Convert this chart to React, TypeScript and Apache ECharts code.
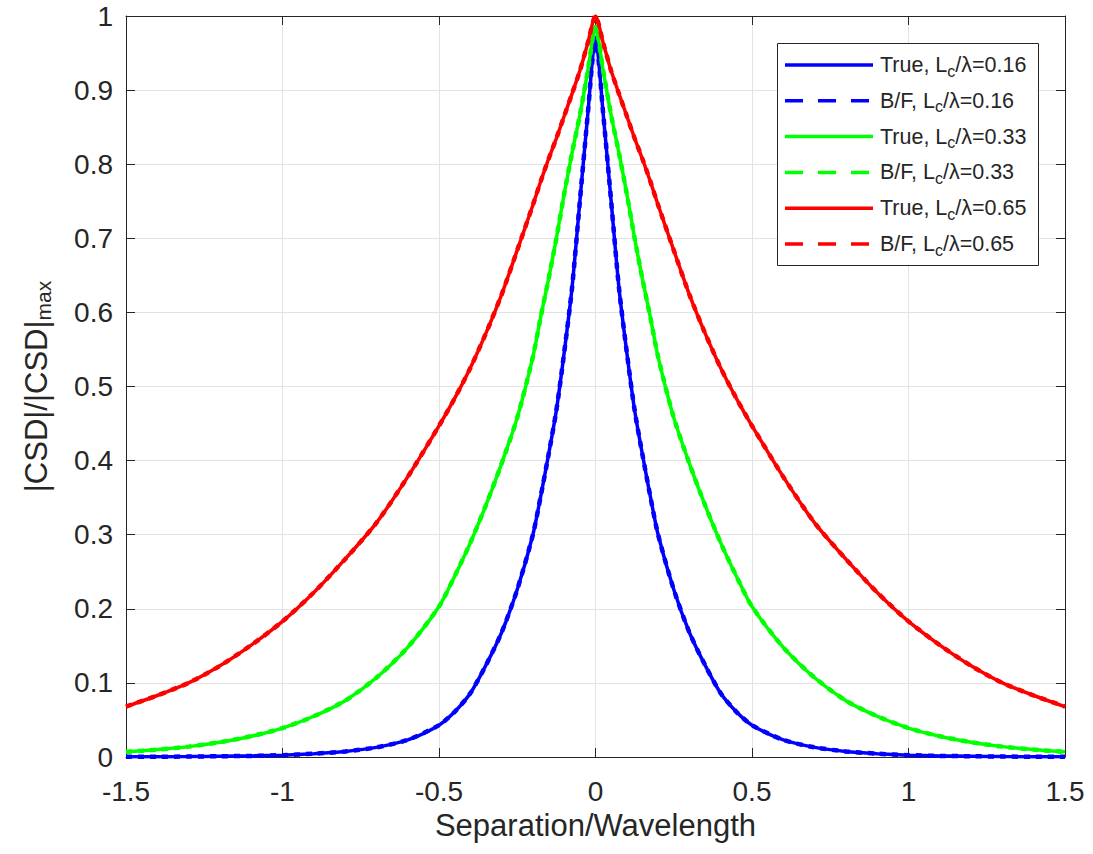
import React, { useEffect, useRef } from "react";
import * as echarts from "echarts";

const FONT = "'Liberation Sans', Arial, Helvetica, sans-serif";
const INK = "#262626";

// Separation / Wavelength sample positions
const XS = [
  -1.5, -1.4, -1.3, -1.2, -1.1, -1.0, -0.9, -0.8, -0.7, -0.6, -0.5, -0.45, -0.4, -0.35, -0.3, -0.25, -0.2,
  -0.175, -0.15, -0.125, -0.1, -0.075, -0.05, -0.025, 0, 0.025, 0.05, 0.075, 0.1, 0.125, 0.15, 0.175, 0.2,
  0.25, 0.3, 0.35, 0.4, 0.45, 0.5, 0.6, 0.7, 0.8, 0.9, 1.0, 1.1, 1.2, 1.3, 1.4, 1.5,
];

// Lc/λ = 0.16 (blue)
const TRUE_016 = [
  0.0002, 0.0004, 0.0006, 0.001, 0.0015, 0.0025, 0.0045, 0.0075, 0.013, 0.023, 0.043, 0.061, 0.086, 0.124, 0.168,
  0.226, 0.3, 0.352, 0.408, 0.468, 0.546, 0.633, 0.75, 0.866, 0.97, 0.866, 0.75, 0.633, 0.546, 0.468, 0.408,
  0.352, 0.3, 0.226, 0.168, 0.124, 0.086, 0.061, 0.043, 0.023, 0.013, 0.0075, 0.0045, 0.0025, 0.0015, 0.001,
  0.0006, 0.0004, 0.0002,
];
const BF_016 = [
  0.0002, 0.0004, 0.0006, 0.001, 0.0015, 0.0025, 0.0045, 0.0075, 0.013, 0.023, 0.043, 0.061, 0.086, 0.124, 0.168,
  0.226, 0.3, 0.352, 0.408, 0.468, 0.546, 0.633, 0.75, 0.866, 0.97, 0.866, 0.75, 0.633, 0.546, 0.468, 0.408,
  0.352, 0.3, 0.226, 0.168, 0.124, 0.086, 0.061, 0.043, 0.023, 0.013, 0.0075, 0.0045, 0.0025, 0.0015, 0.001,
  0.0006, 0.0004, 0.0002,
];

// Lc/λ = 0.33 (green)
const TRUE_033 = [
  0.007, 0.01, 0.014, 0.02, 0.028, 0.039, 0.055, 0.076, 0.107, 0.148, 0.203, 0.244, 0.289, 0.34, 0.396, 0.458,
  0.54, 0.594, 0.645, 0.7, 0.76, 0.815, 0.866, 0.925, 0.985, 0.925, 0.866, 0.815, 0.76, 0.7, 0.645, 0.594,
  0.54, 0.458, 0.396, 0.34, 0.289, 0.244, 0.203, 0.148, 0.107, 0.076, 0.055, 0.039, 0.028, 0.02, 0.014, 0.01,
  0.007,
];
const BF_033 = [
  0.007, 0.01, 0.014, 0.02, 0.028, 0.039, 0.055, 0.076, 0.107, 0.148, 0.203, 0.244, 0.289, 0.34, 0.396, 0.458,
  0.54, 0.594, 0.645, 0.7, 0.76, 0.815, 0.866, 0.925, 0.985, 0.925, 0.866, 0.815, 0.76, 0.7, 0.645, 0.594,
  0.54, 0.458, 0.396, 0.34, 0.289, 0.244, 0.203, 0.148, 0.107, 0.076, 0.055, 0.039, 0.028, 0.02, 0.014, 0.01,
  0.007,
];

// Lc/λ = 0.65 (red)
const TRUE_065 = [
  0.068, 0.083, 0.1, 0.123, 0.151, 0.183, 0.222, 0.267, 0.316, 0.378, 0.447, 0.484, 0.525, 0.572, 0.624, 0.684,
  0.745, 0.777, 0.807, 0.835, 0.865, 0.895, 0.926, 0.963, 1.0, 0.963, 0.926, 0.895, 0.865, 0.835, 0.807, 0.777,
  0.745, 0.684, 0.624, 0.572, 0.525, 0.484, 0.447, 0.378, 0.316, 0.267, 0.222, 0.183, 0.151, 0.123, 0.1, 0.083,
  0.068,
];
const BF_065 = [
  0.068, 0.083, 0.1, 0.123, 0.151, 0.183, 0.222, 0.267, 0.316, 0.378, 0.447, 0.484, 0.525, 0.572, 0.624, 0.684,
  0.745, 0.777, 0.807, 0.835, 0.865, 0.895, 0.926, 0.963, 1.0, 0.963, 0.926, 0.895, 0.865, 0.835, 0.807, 0.777,
  0.745, 0.684, 0.624, 0.572, 0.525, 0.484, 0.447, 0.378, 0.316, 0.267, 0.222, 0.183, 0.151, 0.123, 0.1, 0.083,
  0.068,
];

const KINDS = ["True", "B/F", "True", "B/F", "True", "B/F"];
const RATIOS = ["0.16", "0.16", "0.33", "0.33", "0.65", "0.65"];
const COLORS = ["#0000ff", "#0000ff", "#00ff00", "#00ff00", "#ff0000", "#ff0000"];
const DASHED = [false, true, false, true, false, true];
const VALUES = [TRUE_016, BF_016, TRUE_033, BF_033, TRUE_065, BF_065];

const X_LABEL = "Separation/Wavelength";
const Y_LABEL_MAIN = "|CSD|/|CSD|";
const Y_LABEL_SUB = "max";

export default function App() {
  const ref = useRef<HTMLDivElement>(null);

  useEffect(() => {
    const chart = echarts.init(ref.current as HTMLDivElement, null, { renderer: "svg" });

    const series = VALUES.map((ys, i) => ({
      name: `${KINDS[i]}, Lc/λ=${RATIOS[i]}`,
      type: "line",
      xAxisIndex: 0,
      yAxisIndex: 0,
      data: XS.map((x, j) => [x, ys[j]]),
      symbol: "none",
      showSymbol: false,
      smooth: 0.25,
      silent: true,
      clip: true,
      lineStyle: {
        color: COLORS[i],
        width: DASHED[i] ? 4.5 : 3.5,
        type: DASHED[i] ? [6, 6] : "solid",
      },
      z: 2 + i,
    }));

    // legend box drawn with graphic elements
    const legendLeft = 777.5;
    const legendTop = 43.5;
    const rowY0 = 65;
    const rowStep = 35.8;
    const legendEls: any[] = [
      {
        type: "rect",
        shape: { x: legendLeft, y: legendTop, width: 261, height: 222 },
        style: { fill: "#ffffff", stroke: INK, lineWidth: 1 },
        z: 100,
      },
    ];
    KINDS.forEach((k, i) => {
      const y = rowY0 + i * rowStep;
      legendEls.push({
        type: "line",
        shape: { x1: 785, y1: y, x2: DASHED[i] ? 871 : 873, y2: y },
        style: { stroke: COLORS[i], lineWidth: 3.5, lineDash: DASHED[i] ? [18, 15] : null },
        z: 101,
      });
      legendEls.push({
        type: "text",
        x: 880,
        y: y,
        style: {
          text: `{a|${k}, L}{s|c}{a|/λ=${RATIOS[i]}}`,
          verticalAlign: "middle",
          align: "left",
          rich: {
            a: { fontSize: 21.5, fontFamily: FONT, fill: INK },
            s: { fontSize: 16, fontFamily: FONT, fill: INK, padding: [12, 0, 0, 0] },
          },
        },
        z: 101,
      });
    });

    const axisCommon = {
      type: "value",
      axisLine: { show: true, onZero: false, lineStyle: { color: INK, width: 1 } },
      axisTick: { show: true, inside: true, length: 9, lineStyle: { color: INK, width: 1 } },
    };

    chart.setOption({
      animation: false,
      backgroundColor: "#ffffff",
      grid: { left: 126, right: 28, top: 16, bottom: 97, containLabel: false },
      xAxis: [
        {
          ...axisCommon,
          position: "bottom",
          min: -1.5,
          max: 1.5,
          interval: 0.5,
          name: X_LABEL,
          nameLocation: "middle",
          nameGap: 44,
          nameTextStyle: { fontSize: 31, fontFamily: FONT, color: INK },
          axisLabel: { fontSize: 28, fontFamily: FONT, color: INK, margin: 20 },
          splitLine: { show: true, lineStyle: { color: "#e3e3e3", width: 1 } },
        },
        {
          ...axisCommon,
          position: "top",
          min: -1.5,
          max: 1.5,
          interval: 0.5,
          axisLabel: { show: false },
          splitLine: { show: false },
        },
      ],
      yAxis: [
        {
          ...axisCommon,
          position: "left",
          min: 0,
          max: 1,
          interval: 0.1,
          name: `{a|${Y_LABEL_MAIN}}{s|${Y_LABEL_SUB}}`,
          nameLocation: "middle",
          nameRotate: 90,
          nameGap: 72,
          nameTextStyle: {
            color: INK,
            rich: {
              a: { fontSize: 31, fontFamily: FONT, color: INK },
              s: { fontSize: 21, fontFamily: FONT, color: INK, padding: [14, 0, 0, 0] },
            },
          },
          axisLabel: { fontSize: 28, fontFamily: FONT, color: INK, margin: 13 },
          splitLine: { show: true, lineStyle: { color: "#e3e3e3", width: 1 } },
        },
        {
          ...axisCommon,
          position: "right",
          min: 0,
          max: 1,
          interval: 0.1,
          axisLabel: { show: false },
          splitLine: { show: false },
        },
      ],
      series,
      graphic: legendEls,
    });

    return () => {
      chart.dispose();
    };
  }, []);

  return (
    <div
      ref={ref}
      style={{ position: "fixed", left: 0, top: 0, width: 1093, height: 854, background: "#ffffff" }}
    />
  );
}
